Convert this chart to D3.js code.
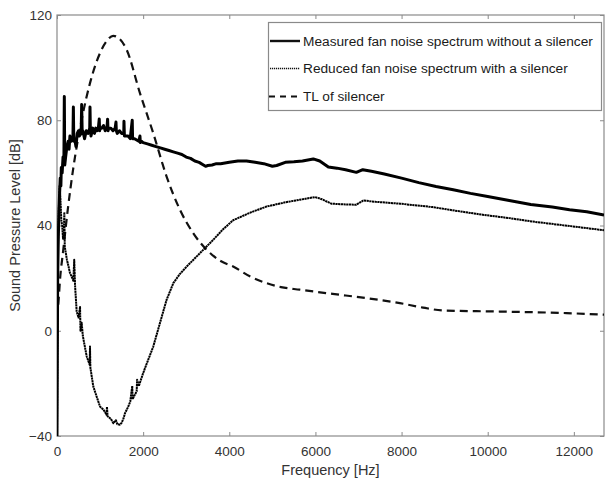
<!DOCTYPE html>
<html><head><meta charset="utf-8">
<script src="https://cdn.jsdelivr.net/npm/d3@7"></script>
<style>
html,body{margin:0;padding:0;background:#fff;}
svg{display:block;font-family:"Liberation Sans",Arial,sans-serif;}
</style></head>
<body>
<svg id="chart" width="605" height="483"></svg>
<script>
// ---- data ----
const xTicks = [0, 2000, 4000, 6000, 8000, 10000, 12000];
const yTicks = [-40, 0, 40, 80, 120];
const seriesNames = ["Measured fan noise spectrum without a silencer",
                     "Reduced fan noise spectrum with a silencer",
                     "TL of silencer"];

const measuredFreq = [0,15,30,45,60,75,90,100,120,140,160,170,180,200,230,260,280,300,330,370,380,390,410,440,470,500,520,560,573,585,600,640,680,720,760,766,775,790,830,870,900,930,960,981,990,1000,1040,1080,1120,1160,1175,1185,1200,1250,1300,1350,1369,1378,1400,1450,1500,1550,1555,1565,1600,1650,1700,1747,1755,1800,1850,1900,1926,1935,1960,2000,2100,2200,2300,2400,2500,2600,2700,2800,2900,3000,3100,3200,3300,3400,3450,3500,3600,3700,3800,4000,4200,4400,4600,4800,5000,5100,5300,5500,5700,5950,6100,6300,6500,6700,6950,7100,7300,7600,8000,8400,8800,9200,9600,10000,10500,11000,11500,11900,12300,12700];
const measuredDb   = [-40,20,35,45,52,58,55,62,60,66,64,89,63,66,70,72,69,74,72,73,85,72,73,70,75,76,74,75,86,75,76,73,76,75,77,85,76,74,77,75,77,76,77,80.5,76,77,77,78,76,77,80.4,76,77,77,76,77,79.3,76,75,76,75,75,79.6,74,74,74,73,80,73,73,72.5,72,74,71.5,72,71.5,71,70.5,70,69.5,69,68.5,68,67.5,67,66,65.5,64.5,64,63,62.5,62.8,63,63.5,63.5,64,64.5,64.5,64,63.5,62.5,62.8,64,64.2,64.5,65.3,64.5,62.2,61.8,61.2,60.2,61.2,60.6,59.6,58,56.3,54.8,53.6,52.2,51,49.5,48,47,46,45.2,44];

const reducedFreq = [0,20,40,60,80,100,120,140,160,170,180,200,230,260,300,340,380,400,420,457,500,535,545,573,600,690,760,766,775,843,920,998,1080,1150,1160,1175,1250,1310,1369,1400,1460,1500,1540,1580,1650,1700,1747,1755,1850,1860,1900,2000,2235,2390,2545,2700,2850,3010,3320,3630,3850,4090,4500,4865,5300,5640,5990,6150,6370,6700,6950,7110,7400,7960,8720,9300,9880,10500,11040,11800,12600,12700];
const reducedDb   = [-40,30,45,55,50,42,40,35,38,45,32,30,27,25,22,20.6,19,27,17,7.3,5,9,0,3,-2,-9.8,-13,-6,-14,-21.2,-25,-28.8,-30,-31.9,-29,-32.5,-33.5,-35.1,-34,-35.5,-35.7,-35,-33.5,-31.3,-29,-27,-21,-26,-23,-18.6,-21,-16.1,-6,2.9,11.8,18.1,21.5,24.4,29.5,34.6,38.5,42,45,47.2,48.8,49.8,50.8,50,48.3,48,47.9,49.5,49,48.3,47,45.5,44.1,42.8,41.5,40,38.4,38.2];

const tlFreq = [0,30,70,146,250,380,573,766,998,1150,1306,1450,1617,1926,2234,2545,2854,3162,3473,3800,4090,4500,4865,5200,5638,6400,7186,7960,8500,8963,10280,11830,12700];
const tlDb   = [5,10,19.4,30.8,46,62,80.2,94.1,105.5,110,112.1,111,106.8,90.3,75.1,58.6,46,37.1,30.8,26.5,24.4,20.5,18.1,16.6,15.6,14,12.4,10.5,8.8,7.7,7.3,6.7,6.1];

// ---- layout ----
const svg = d3.select("#chart");
const pL = 57, pR = 604, pT = 15, pB = 436;
const x = d3.scaleLinear().domain([0, 12700]).range([pL, pR]);
const y = d3.scaleLinear().domain([-40, 120]).range([pB, pT]);
const axisColor = "#8a8a8a", textColor = "#333";

// frame
svg.append("rect").attr("x", pL).attr("y", pT).attr("width", pR-pL).attr("height", pB-pT)
  .attr("fill", "none").attr("stroke", axisColor).attr("stroke-width", 1.2);

// axes (ticks inward)
const xb = svg.append("g").attr("transform", `translate(0,${pB})`)
  .call(d3.axisBottom(x).tickValues(xTicks).tickSizeInner(-4).tickSizeOuter(0).tickPadding(10).tickFormat(d3.format("d")));
const xt = svg.append("g").attr("transform", `translate(0,${pT})`)
  .call(d3.axisTop(x).tickValues(xTicks).tickSizeInner(-4).tickSizeOuter(0).tickFormat(""));
const yl = svg.append("g").attr("transform", `translate(${pL},0)`)
  .call(d3.axisLeft(y).tickValues(yTicks).tickSizeInner(-4).tickSizeOuter(0).tickPadding(5).tickFormat(d3.format("d")));
const yr = svg.append("g").attr("transform", `translate(${pR},0)`)
  .call(d3.axisRight(y).tickValues(yTicks).tickSizeInner(-4).tickSizeOuter(0).tickFormat(""));
[xb, xt, yl, yr].forEach(g => {
  g.select(".domain").remove();
  g.selectAll(".tick line").attr("stroke", axisColor);
  g.selectAll(".tick text").attr("fill", textColor).style("font-size", "13.5px");
});

// axis titles
svg.append("text").attr("x", (pL+pR)/2).attr("y", 475).attr("text-anchor", "middle")
  .attr("fill", textColor).style("font-size", "14.5px").text("Frequency [Hz]");
svg.append("text").attr("transform", `translate(20,${(pT+pB)/2}) rotate(-90)`).attr("text-anchor", "middle")
  .attr("fill", textColor).style("font-size", "14.5px").text("Sound Pressure Level [dB]");

// lines
svg.append("clipPath").attr("id", "clip").append("rect")
  .attr("x", pL).attr("y", pT).attr("width", pR-pL).attr("height", pB-pT);
const plot = svg.append("g").attr("clip-path", "url(#clip)");

const mk = (fr, db) => fr.map((f, i) => [f, db[i]]);
const lineL = d3.line().x(d => x(d[0])).y(d => y(d[1]));
const lineS = d3.line().x(d => x(d[0])).y(d => y(d[1])).curve(d3.curveMonotoneX);

plot.append("path").attr("d", lineS(mk(tlFreq, tlDb)))
  .attr("fill", "none").attr("stroke", "#111").attr("stroke-width", 2.2).attr("stroke-dasharray", "8,5");
plot.append("path").attr("d", lineL(mk(reducedFreq, reducedDb)))
  .attr("fill", "none").attr("stroke", "#000").attr("stroke-width", 2).attr("stroke-dasharray", "2.2,0.5")
  .attr("stroke-linejoin", "round");
plot.append("path").attr("d", lineL(mk(measuredFreq, measuredDb)))
  .attr("fill", "none").attr("stroke", "#000").attr("stroke-width", 3).attr("stroke-linejoin", "round");

// legend
const lg = svg.append("g");
lg.append("rect").attr("x", 268.5).attr("y", 22.5).attr("width", 333).attr("height", 88)
  .attr("fill", "#fff").attr("stroke", axisColor).attr("stroke-width", 1.2);
const legendY = [41, 68.5, 96.5];
const styles = [
  {w: 2.4, dash: null},
  {w: 1.6, dash: "1.2,0.8"},
  {w: 2.2, dash: "6,5"}
];
seriesNames.forEach((n, i) => {
  const l = lg.append("line").attr("x1", i === 2 ? 269 : 270).attr("x2", 300)
    .attr("y1", legendY[i]).attr("y2", legendY[i])
    .attr("stroke", "#111").attr("stroke-width", styles[i].w);
  if (styles[i].dash) l.attr("stroke-dasharray", styles[i].dash);
  lg.append("text").attr("x", 303).attr("y", legendY[i]).attr("dy", "0.35em")
    .attr("fill", "#1a1a1a").style("font-size", "13.7px").text(n);
});
</script>
</body></html>
